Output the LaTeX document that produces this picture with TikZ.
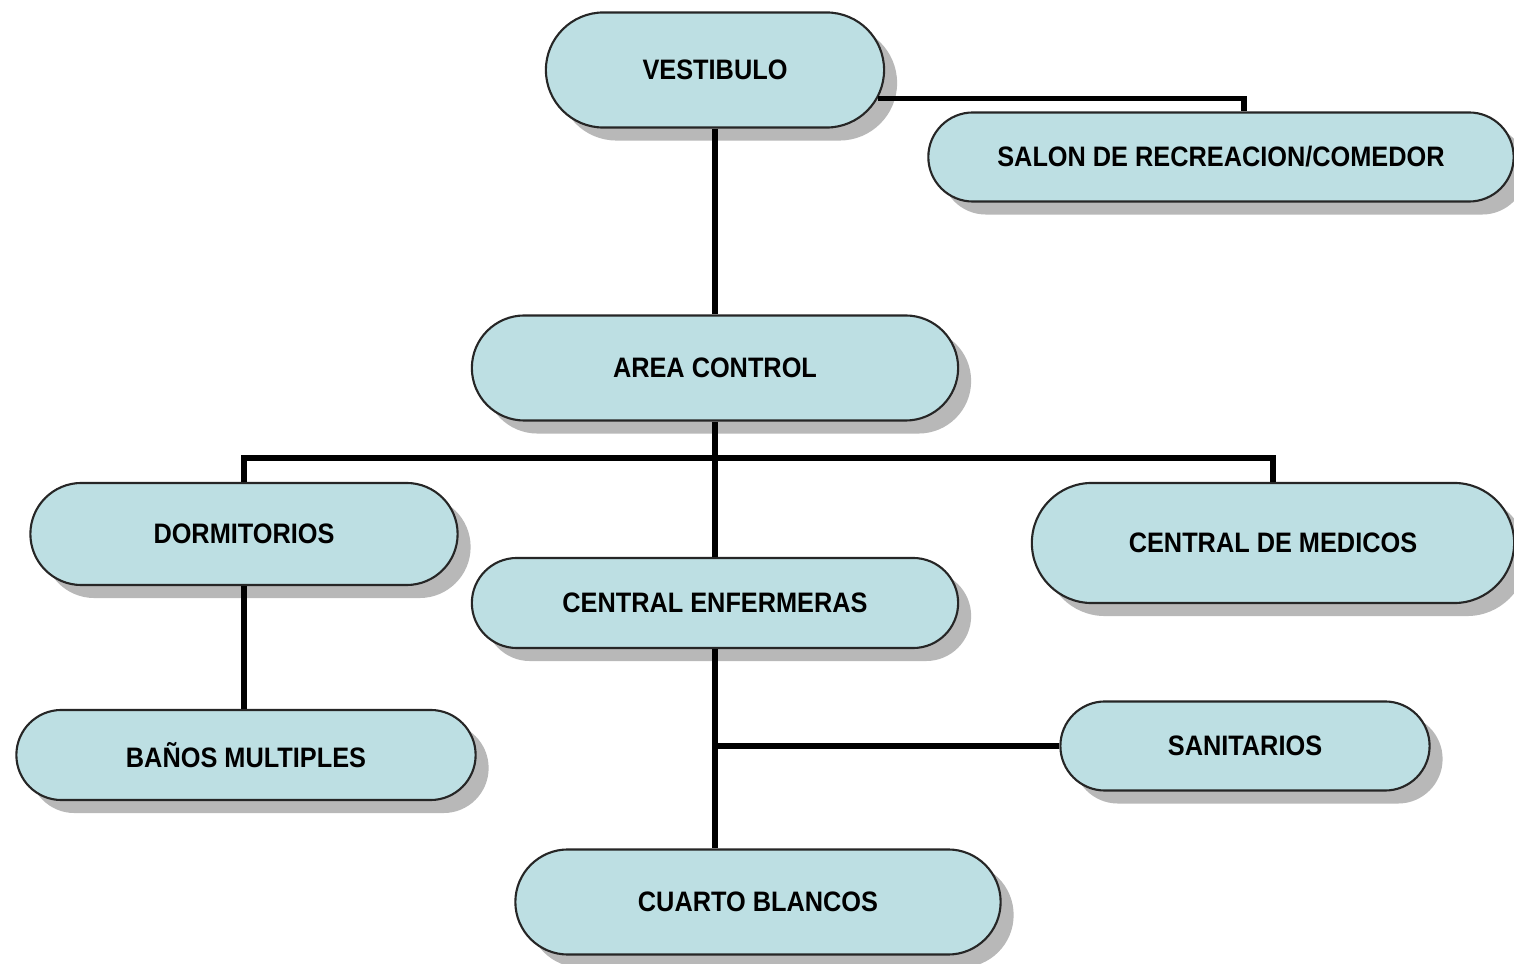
\documentclass[tikz,border=0pt]{standalone}
\usepackage{fontspec}
\setmainfont{Liberation Sans}[FakeStretch=0.9]
\usetikzlibrary{shapes.misc,shadows}
\definecolor{pillfill}{HTML}{BDDFE3}
\definecolor{shadowgray}{HTML}{B8B8B8}
\begin{document}
\begin{tikzpicture}[x=0.01cm,y=-0.01cm,
  pill/.style={rounded rectangle, draw=black!85, line width=0.6pt, fill=pillfill,
    font=\bfseries\fontsize{8}{9}\selectfont, text=black, inner sep=0pt,
    drop shadow={shadow xshift=0.13cm, shadow yshift=-0.13cm, fill=shadowgray, opacity=1}},
  link/.style={line width=1.5pt, black}]
\fill[white] (0,0) rectangle (1514,964);
\useasboundingbox (0,0) rectangle (1514,964);

\node[pill, minimum width=3.38cm, minimum height=1.15cm] (vest) at (715,70) {VESTIBULO};
\node[pill, minimum width=5.85cm, minimum height=0.89cm] (salon) at (1221,157) {SALON DE RECREACION/COMEDOR};
\node[pill, minimum width=4.86cm, minimum height=1.05cm] (area) at (715,368) {AREA CONTROL};
\node[pill, minimum width=4.27cm, minimum height=1.02cm] (dorm) at (244,534) {DORMITORIOS};
\node[pill, minimum width=4.86cm, minimum height=0.90cm] (enf) at (715,603) {CENTRAL ENFERMERAS};
\node[pill, minimum width=4.82cm, minimum height=1.20cm] (med) at (1273,543) {CENTRAL DE MEDICOS};
\node[pill, minimum width=4.59cm, minimum height=0.90cm] (banos) at (246,755) {BAÑOS MULTIPLES};
\node[pill, minimum width=3.69cm, minimum height=0.89cm] (sani) at (1245,746) {SANITARIOS};
\node[pill, minimum width=4.85cm, minimum height=1.05cm] (cuarto) at (758,902) {CUARTO BLANCOS};

\draw[link] (vest.south) -- (area.north);
\draw[link] (vest.-10) -| ([xshift=0.23cm]salon.north);
\draw[link] (area.south) -- (enf.north);
\draw[link] (dorm.north) -- ++(0,-24) -| (med.north);
\draw[link] (dorm.south) -- (dorm.south |- banos.north);
\draw[link] (enf.south) -- (enf.south |- cuarto.north);
\draw[link] (enf.south |- sani.west) -- (sani.west);
\end{tikzpicture}
\end{document}
